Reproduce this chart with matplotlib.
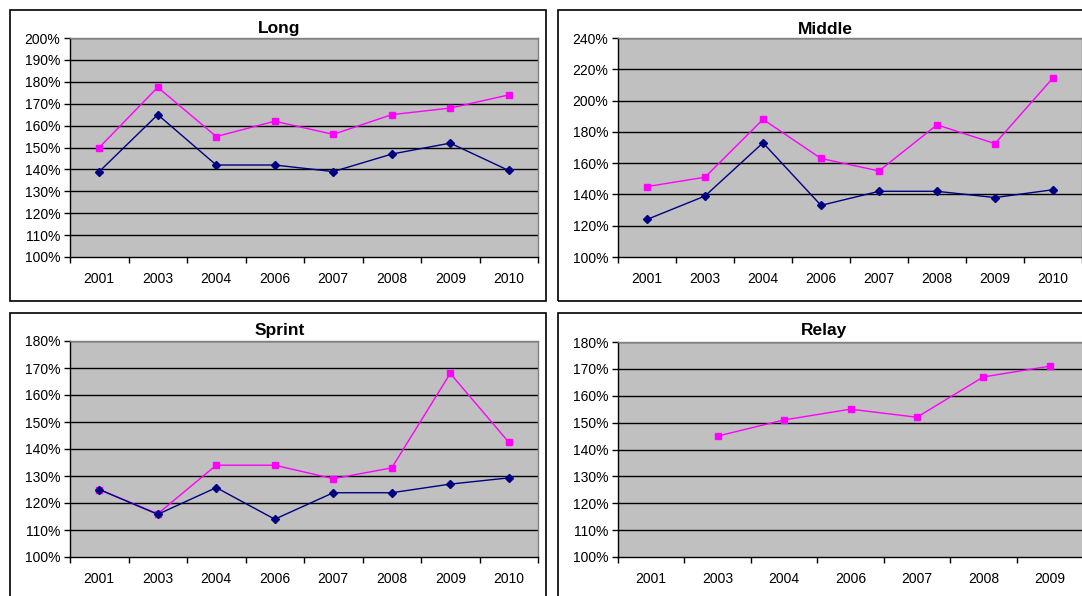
import matplotlib
matplotlib.use('Agg')
import matplotlib.pyplot as plt
from matplotlib.patches import Rectangle
from matplotlib.ticker import FuncFormatter, FixedLocator
import numpy as np

# ==========================================
# data (values in %)
# ==========================================
years8 = ["2001", "2003", "2004", "2006", "2007", "2008", "2009", "2010"]
years7 = ["2001", "2003", "2004", "2006", "2007", "2008", "2009"]

long_pink = [150, 177.5, 155, 162, 156, 165, 168, 174]
long_blue = [139, 165, 142, 142, 139, 147, 152, 139.5]

middle_pink = [145, 151, 188, 163, 155, 184.5, 172.5, 214.5]
middle_blue = [124, 139, 173, 133, 142, 142, 138, 143]

sprint_pink = [125, 116, 134, 134, 129, 133, 168, 142.5]
sprint_blue = [125, 115.8, 125.7, 114, 123.8, 123.8, 127, 129.3]

relay_pink = [np.nan, 145, 151, 155, 152, 167, 171]

PINK = "#FF00FF"
NAVY = "#000080"
PLOT_BG = "#C0C0C0"

plt.rcParams['font.family'] = ['Liberation Sans', 'DejaVu Sans']

W, H = 1082, 596
fig = plt.figure(figsize=(W / 100, H / 100), dpi=100)


def px_box(x0, y0, x1, y1):
    # pixel box (top-left origin) -> figure fraction [l, b, w, h]
    return [x0 / W, 1 - y1 / H, (x1 - x0) / W, (y1 - y0) / H]


def panel(rect, title, title_xy, cats, series, ylo, yhi, ystep):
    ax = fig.add_axes(px_box(*rect))
    ax.set_facecolor(PLOT_BG)
    n = len(cats)
    x = np.arange(n)
    for vals, color, marker in series:
        ax.plot(x, vals, color=color, lw=1, marker=marker, ms=4.8 if marker == 's' else 4.5,
                mfc=color, mec=color, zorder=3, clip_on=False)
    ax.set_xlim(-0.5, n - 0.5)
    ax.set_ylim(ylo, yhi)
    yt = np.arange(ylo, yhi + 0.01, ystep)
    ax.set_yticks(yt)
    ax.yaxis.set_major_formatter(FuncFormatter(lambda v, p: f"{v:.0f}%"))
    for v in yt[1:]:
        ax.axhline(v, color="black", lw=1, zorder=1)
    # category ticks between categories, labels centred
    ax.xaxis.set_major_locator(FixedLocator(np.arange(n + 1) - 0.5))
    ax.xaxis.set_minor_locator(FixedLocator(x))
    ax.set_xticklabels([], minor=False)
    ax.set_xticklabels(cats, minor=True)
    ax.tick_params(axis='x', which='major', direction='out', length=4, width=1, color='black')
    ax.tick_params(axis='x', which='minor', length=0, pad=11, labelsize=10)
    ax.tick_params(axis='y', direction='out', length=4, width=1, pad=3, labelsize=10)
    for s in ['left', 'bottom']:
        ax.spines[s].set_color('black')
        ax.spines[s].set_linewidth(1)
    for s in ['top', 'right']:
        ax.spines[s].set_color('#808080')
        ax.spines[s].set_linewidth(1)
    fig.text(title_xy[0] / W, 1 - title_xy[1] / H, title, ha='center', va='center',
             fontsize=12.5, fontweight='bold')
    return ax


# outer chart boxes
for bx in [(10, 10, 546, 301), (558, 10, 1092, 301), (10, 313, 546, 620), (558, 313, 1092, 620)]:
    l, b, w, h = px_box(*bx)
    fig.patches.append(Rectangle((l, b), w, h, transform=fig.transFigure,
                                 fill=False, edgecolor='black', lw=1.2))

panel((70, 38, 538, 257), "Long", (279, 28), years8,
      [(long_pink, PINK, 's'), (long_blue, NAVY, 'D')], 100, 200, 10)
panel((618, 38, 1082, 257), "Middle", (825, 29), years8,
      [(middle_pink, PINK, 's'), (middle_blue, NAVY, 'D')], 100, 240, 20)
panel((70, 341, 538, 557), "Sprint", (280, 330), years8,
      [(sprint_pink, PINK, 's'), (sprint_blue, NAVY, 'D')], 100, 180, 10)
panel((618, 342, 1083, 557), "Relay", (824, 330), years7,
      [(relay_pink, PINK, 's')], 100, 180, 10)

fig.savefig("out.png", dpi=100)
plt.close('all')
